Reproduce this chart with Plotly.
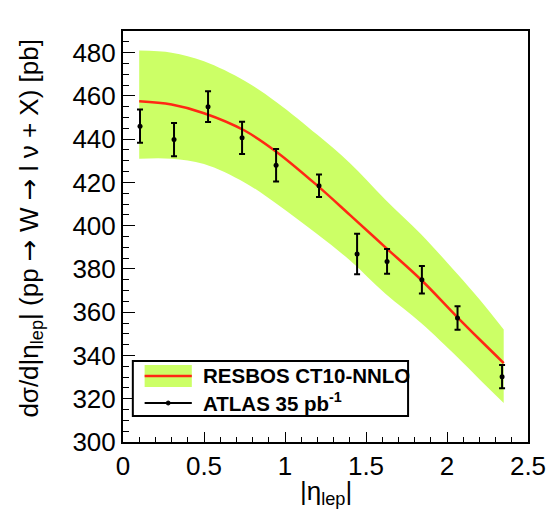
import plotly.graph_objects as go

# ---- data ----
eta_atlas = [0.105, 0.315, 0.525, 0.735, 0.945, 1.21, 1.445, 1.63, 1.845, 2.065, 2.34]
xsec_atlas = [446.0, 439.8, 455.0, 440.6, 427.9, 418.5, 386.9, 383.5, 375.0, 357.3, 330.2]
err_atlas = [7.7, 7.7, 7.1, 7.5, 7.5, 5.2, 9.4, 5.7, 6.4, 5.4, 5.4]

eta_theory = [0.1, 0.3, 0.5, 0.75, 0.95, 1.2, 1.4, 1.62, 1.84, 2.06, 2.2, 2.35]
xsec_theory = [457.5, 456.0, 452.0, 444.0, 434.0, 418.5, 405.0, 390.0, 375.0, 358.0, 347.5, 336.5]
band_upper = [481, 480, 476, 467, 457, 442, 429, 412, 396, 378, 366, 352]
band_lower = [431, 431, 428.5, 420, 410, 396, 384, 368.5, 355, 339.5, 329, 318]

y_ticks = [300, 320, 340, 360, 380, 400, 420, 440, 460, 480]
x_ticks = [0, 0.5, 1, 1.5, 2, 2.5]
x_ticklabels = ["0", "0.5", "1", "1.5", "2", "2.5"]

GREEN = "rgb(204,255,102)"
RED = "rgb(255,40,20)"
FONT = "Liberation Sans"

W, H = 558, 527
ML, MR, MT, MB = 123, 23, 31, 85
PW, PH = W - ML - MR, H - MT - MB


def px(xp):
    return (xp - ML) / PW


def py(yp):
    return (H - MB - yp) / PH


fig = go.Figure()
fig.add_trace(go.Scatter(x=eta_theory, y=band_lower, mode="lines",
                         line=dict(width=0, color=GREEN, shape="spline"),
                         showlegend=False, hoverinfo="skip"))
fig.add_trace(go.Scatter(x=eta_theory, y=band_upper, mode="lines",
                         line=dict(width=0, color=GREEN, shape="spline"),
                         fill="tonexty", fillcolor=GREEN,
                         showlegend=False, hoverinfo="skip"))
fig.add_trace(go.Scatter(x=eta_theory, y=xsec_theory, mode="lines",
                         line=dict(width=2.5, color=RED, shape="spline"),
                         name="RESBOS CT10-NNLO", showlegend=False))
fig.add_trace(go.Scatter(x=eta_atlas, y=xsec_atlas, mode="markers",
                         marker=dict(color="black", size=5),
                         error_y=dict(type="data", array=err_atlas, color="black",
                                      thickness=2, width=3),
                         name="ATLAS 35 pb-1", showlegend=False))

fig.update_xaxes(range=[0, 2.5], tickvals=x_ticks, ticktext=x_ticklabels,
                 ticks="inside", ticklen=10, tickwidth=1, tickcolor="black",
                 minor=dict(ticks="inside", ticklen=5, dtick=0.1, tickcolor="black"),
                 showline=True, linecolor="black", linewidth=2, mirror=True,
                 showgrid=False, zeroline=False,
                 tickfont=dict(family=FONT, size=26, color="black"))
fig.update_yaxes(range=[300, 490], tickvals=y_ticks,
                 ticks="inside", ticklen=12, tickwidth=1, tickcolor="black",
                 minor=dict(ticks="inside", ticklen=6, dtick=5, tickcolor="black"),
                 showline=True, linecolor="black", linewidth=2, mirror=True,
                 showgrid=False, zeroline=False,
                 tickfont=dict(family=FONT, size=26, color="black"))

shapes = [
    # legend box
    dict(type="rect", xref="paper", yref="paper", x0=px(133), x1=px(413), y0=py(416), y1=py(361),
         line=dict(color="black", width=2), fillcolor="white", layer="above"),
    dict(type="rect", xref="paper", yref="paper", x0=px(145), x1=px(193), y0=py(387), y1=py(365),
         line=dict(width=0), fillcolor=GREEN, layer="above"),
    dict(type="line", xref="paper", yref="paper", x0=px(145), x1=px(193), y0=py(376), y1=py(376),
         line=dict(color=RED, width=2.5), layer="above"),
    dict(type="line", xref="paper", yref="paper", x0=px(145), x1=px(193), y0=py(403), y1=py(403),
         line=dict(color="black", width=2), layer="above"),
    dict(type="circle", xref="paper", yref="paper", x0=px(167), x1=px(171), y0=py(405), y1=py(401),
         line=dict(color="black", width=1), fillcolor="black", layer="above"),
]

ARROW = '<span style="font-family:DejaVu Sans">→</span>'
annotations = [
    dict(text="<b>RESBOS CT10-NNLO</b>", xref="paper", yref="paper", x=px(202), y=py(375),
         xanchor="left", yanchor="middle", showarrow=False,
         font=dict(family=FONT, size=20.5, color="black")),
    dict(text="<b>ATLAS 35 pb<sup>-1</sup></b>", xref="paper", yref="paper", x=px(202), y=py(402),
         xanchor="left", yanchor="middle", showarrow=False,
         font=dict(family=FONT, size=20.5, color="black")),
    dict(text="dσ/d|η<sub>lep</sub>| (pp " + ARROW + " W " + ARROW + " l ν + X) [pb]",
         xref="paper", yref="paper",
         x=px(28), y=py(228), xanchor="center", yanchor="middle", textangle=-90,
         showarrow=False, font=dict(family=FONT, size=26, color="black")),
    dict(text="|η<sub>lep</sub>|", xref="paper", yref="paper",
         x=px(330), y=py(474), xanchor="center", yanchor="top",
         showarrow=False, font=dict(family=FONT, size=26, color="black")),
]

fig.update_layout(width=W, height=H, margin=dict(l=ML, r=MR, t=MT, b=MB),
                  paper_bgcolor="white", plot_bgcolor="white",
                  shapes=shapes, annotations=annotations, showlegend=False)

fig.write_html("out.html")
